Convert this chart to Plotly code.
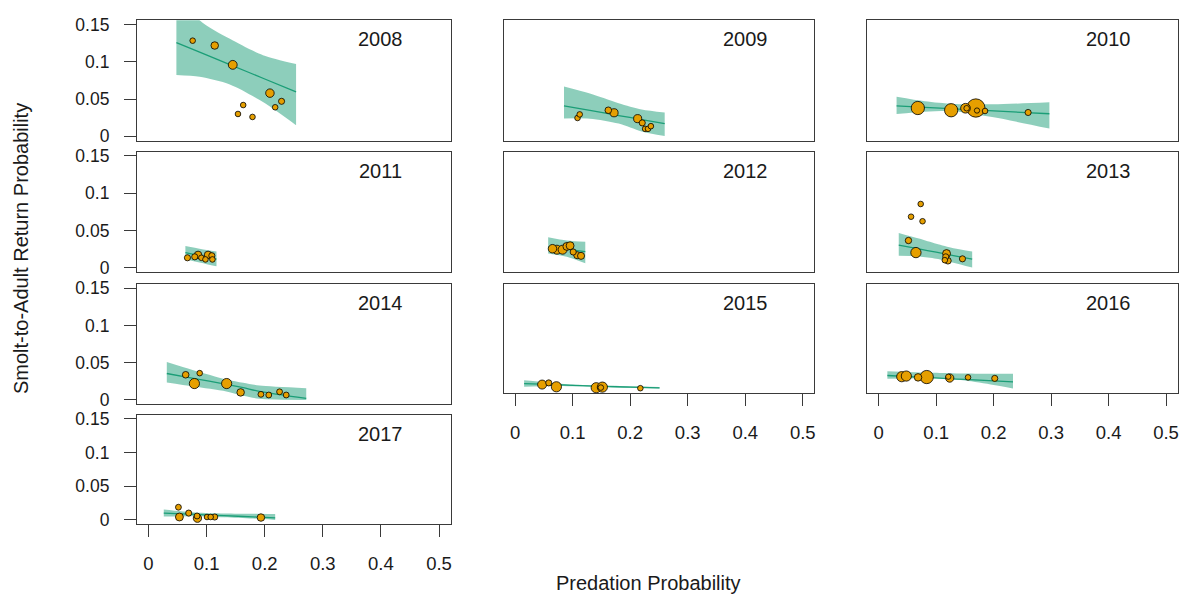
import plotly.graph_objects as go

# ---------------- data ----------------
years = [2008, 2009, 2010, 2011, 2012, 2013, 2014, 2015, 2016, 2017]

# observed points: predation probability, SAR, relative weight (bubble size)
pred_2008 = [0.076, 0.114, 0.145, 0.209, 0.229, 0.218, 0.163, 0.154, 0.179]
sar_2008 = [0.1285, 0.122, 0.096, 0.058, 0.047, 0.039, 0.042, 0.030, 0.026]
wt_2008 = [1.0, 1.8, 2.5, 2.3, 1.2, 1.0, 1.0, 1.0, 1.0]

pred_2009 = [0.1085, 0.1123, 0.162, 0.172, 0.213, 0.221, 0.226, 0.231, 0.236]
sar_2009 = [0.0246, 0.0294, 0.035, 0.0316, 0.0237, 0.018, 0.010, 0.010, 0.0136]
wt_2009 = [1.0, 1.0, 1.4, 2.1, 2.1, 1.2, 1.0, 1.0, 1.0]

pred_2010 = [0.068, 0.126, 0.151, 0.153, 0.169, 0.171, 0.185, 0.260]
sar_2010 = [0.038, 0.035, 0.0377, 0.0377, 0.038, 0.0346, 0.034, 0.032]
wt_2010 = [5.6, 5.6, 3.0, 1.0, 10.7, 0.9, 1.0, 1.2]

pred_2011 = [0.067, 0.0796, 0.0853, 0.091, 0.098, 0.1025, 0.109, 0.110]
sar_2011 = [0.0132, 0.0145, 0.0171, 0.0132, 0.011, 0.0171, 0.016, 0.011]
wt_2011 = [1.2, 1.2, 1.8, 1.0, 1.0, 1.8, 1.2, 1.0]

pred_2012 = [0.065, 0.0727, 0.0826, 0.090, 0.0956, 0.101, 0.108, 0.1146]
sar_2012 = [0.0254, 0.0241, 0.0241, 0.0285, 0.0294, 0.021, 0.0167, 0.0158]
wt_2012 = [2.3, 2.6, 2.6, 2.0, 2.0, 1.2, 1.6, 1.6]

pred_2013 = [0.073, 0.0562, 0.0762, 0.0517, 0.0647, 0.118, 0.1166, 0.1204, 0.115, 0.1457]
sar_2013 = [0.0855, 0.0684, 0.0623, 0.0364, 0.0202, 0.0189, 0.0145, 0.0092, 0.010, 0.0118]
wt_2013 = [1.0, 1.0, 1.0, 1.3, 3.4, 2.0, 1.2, 1.4, 1.0, 1.2]

pred_2014 = [0.064, 0.0881, 0.079, 0.1345, 0.1586, 0.1935, 0.207, 0.2256, 0.237]
sar_2014 = [0.0338, 0.036, 0.022, 0.022, 0.0101, 0.0075, 0.0066, 0.0109, 0.0066]
wt_2014 = [1.4, 1.0, 3.3, 3.3, 1.8, 1.1, 1.1, 1.1, 1.1]

pred_2015 = [0.047, 0.0585, 0.0718, 0.141, 0.1517, 0.149, 0.2177]
sar_2015 = [0.006, 0.0085, 0.0027, 0.0013, 0.0022, 0.0015, 0.0006]
wt_2015 = [2.6, 1.2, 3.3, 3.3, 3.3, 1.0, 1.0]

pred_2016 = [0.040, 0.048, 0.0684, 0.0835, 0.1235, 0.121, 0.1554, 0.2019]
sar_2016 = [0.0177, 0.0187, 0.0167, 0.0172, 0.0157, 0.0177, 0.0167, 0.0152]
wt_2016 = [3.3, 3.3, 1.8, 5.6, 2.2, 0.9, 1.0, 1.2]

pred_2017 = [0.0515, 0.0532, 0.0692, 0.0836, 0.0842, 0.1007, 0.107, 0.114, 0.1935]
sar_2017 = [0.0188, 0.0043, 0.0101, 0.0058, 0.0025, 0.0043, 0.0043, 0.0043, 0.0035]
wt_2017 = [1.1, 2.0, 1.2, 1.1, 2.2, 1.0, 1.0, 1.2, 1.8]

# fitted curve with confidence band: x, fit, lower, upper
fx_2008 = [0.048, 0.088, 0.14, 0.197, 0.254]
fit_2008 = [0.126, 0.113, 0.0964, 0.078, 0.0596]
lwr_2008 = [0.0825, 0.080, 0.0697, 0.046, 0.0149]
upr_2008 = [0.200, 0.156, 0.131, 0.109, 0.097]

fx_2009 = [0.085, 0.13, 0.18, 0.22, 0.26]
fit_2009 = [0.0408, 0.0347, 0.0279, 0.0225, 0.0171]
lwr_2009 = [0.024, 0.0237, 0.0171, 0.0065, 0.0004]
upr_2009 = [0.067, 0.0575, 0.0445, 0.036, 0.032]

fx_2010 = [0.031, 0.08, 0.13, 0.2, 0.297]
fit_2010 = [0.0408, 0.0389, 0.0369, 0.0341, 0.0303]
lwr_2010 = [0.030, 0.033, 0.0338, 0.0255, 0.0105]
upr_2010 = [0.053, 0.047, 0.0435, 0.0430, 0.0457]

fx_2011 = [0.0635, 0.09, 0.117]
fit_2011 = [0.020, 0.0158, 0.0115]
lwr_2011 = [0.0114, 0.0066, 0.0017]
upr_2011 = [0.029, 0.025, 0.0215]

fx_2012 = [0.0575, 0.09, 0.122]
fit_2012 = [0.0276, 0.0245, 0.0215]
lwr_2012 = [0.0189, 0.0145, 0.0057]
upr_2012 = [0.0408, 0.0364, 0.0346]

fx_2013 = [0.0348, 0.07, 0.10, 0.13, 0.1626]
fit_2013 = [0.0303, 0.0251, 0.0207, 0.0162, 0.0114]
lwr_2013 = [0.0158, 0.0150, 0.0120, 0.0065, 0.0]
upr_2013 = [0.0465, 0.039, 0.032, 0.026, 0.0215]

fx_2014 = [0.0315, 0.077, 0.134, 0.163, 0.191, 0.2715]
fit_2014 = [0.0355, 0.029, 0.021, 0.0165, 0.0115, 0.002]
lwr_2014 = [0.0233, 0.018, 0.0114, 0.0055, 0.0015, 0.0]
upr_2014 = [0.051, 0.040, 0.0276, 0.023, 0.0193, 0.0158]

fx_2015 = [0.0157, 0.06, 0.1, 0.15, 0.2, 0.251]
fit_2015 = [0.0075, 0.0062, 0.0048, 0.0034, 0.0022, 0.0012]
lwr_2015 = [0.0027, 0.0038, 0.0035, 0.0025, 0.0012, 0.0002]
upr_2015 = [0.0123, 0.0088, 0.0060, 0.0045, 0.0035, 0.0025]

fx_2016 = [0.015, 0.08, 0.12, 0.15, 0.2, 0.2337]
fit_2016 = [0.0195, 0.0167, 0.0149, 0.0136, 0.0115, 0.010]
lwr_2016 = [0.0148, 0.0155, 0.0145, 0.012, 0.0055, 0.0003]
upr_2016 = [0.026, 0.024, 0.023, 0.0225, 0.022, 0.022]

fx_2017 = [0.0263, 0.08, 0.13, 0.18, 0.218]
fit_2017 = [0.0101, 0.0081, 0.0063, 0.0044, 0.003]
lwr_2017 = [0.0049, 0.0055, 0.004, 0.002, 0.0]
upr_2017 = [0.0155, 0.011, 0.0095, 0.009, 0.0087]

x_ticks = [0, 0.1, 0.2, 0.3, 0.4, 0.5]
x_tick_text = ["0", "0.1", "0.2", "0.3", "0.4", "0.5"]
y_ticks = [0, 0.05, 0.1, 0.15]
y_tick_text = ["0", "0.05", "0.1", "0.15"]

x_title = "Predation Probability"
y_title = "Smolt-to-Adult Return Probability"

# ---------------- layout / styling ----------------
W, H = 1185, 601
FONT = "Liberation Sans, Arial, Helvetica, sans-serif"
TXT = "#1a1a1a"
BOX = "#3a3a3a"
BAND = "rgba(27,158,119,0.5)"
LINE = "#1b9e77"
PT = "#E69F00"

col_px = {1: (137, 451), 2: (504, 815), 3: (868, 1178.5)}
row_px = {
    "r1": (14.5, 137.5),
    "r2": (148.5, 271.5),
    "r3": (283.5, 406.5),
    "r3s": (283.5, 394.5),
    "r4": (417, 528.5),
}
# panel placement: (column, row key, show x axis, show y axis)
place = {
    2008: (1, "r1", False, True),
    2009: (2, "r1", False, False),
    2010: (3, "r1", False, False),
    2011: (1, "r2", False, True),
    2012: (2, "r2", False, False),
    2013: (3, "r2", False, False),
    2014: (1, "r3", False, True),
    2015: (2, "r3s", True, False),
    2016: (3, "r3s", True, False),
    2017: (1, "r4", True, True),
}

g = globals()
fig = go.Figure()
layout = dict(
    width=W, height=H, margin=dict(l=0, r=0, t=0, b=0),
    paper_bgcolor="white", plot_bgcolor="white", showlegend=False,
    font=dict(family=FONT, size=20, color=TXT),
)
annotations = []

for i, yr in enumerate(years, start=1):
    col, rk, showx, showy = place[yr]
    xs = "" if i == 1 else str(i)
    xa, ya = "x" + xs, "y" + xs
    x0, x1 = col_px[col]
    t, b = row_px[rk]
    xd = [x0 / W, x1 / W]
    yd = [1 - b / H, 1 - t / H]

    fx, fit, lwr, upr = g[f"fx_{yr}"], g[f"fit_{yr}"], g[f"lwr_{yr}"], g[f"upr_{yr}"]
    fig.add_trace(go.Scatter(x=fx, y=lwr, mode="lines", line=dict(width=0, shape="spline", smoothing=0.8),
                             xaxis=xa, yaxis=ya, hoverinfo="skip"))
    fig.add_trace(go.Scatter(x=fx, y=upr, mode="lines", line=dict(width=0, shape="spline", smoothing=0.8),
                             fill="tonexty", fillcolor=BAND, xaxis=xa, yaxis=ya, hoverinfo="skip"))
    fig.add_trace(go.Scatter(x=fx, y=fit, mode="lines", line=dict(color=LINE, width=1.3, shape="spline", smoothing=0.8),
                             xaxis=xa, yaxis=ya, hoverinfo="skip"))

    px, sar, wt = g[f"pred_{yr}"], g[f"sar_{yr}"], g[f"wt_{yr}"]
    order = sorted(range(len(px)), key=lambda k: -wt[k])
    fig.add_trace(go.Scatter(
        x=[px[k] for k in order], y=[sar[k] for k in order], mode="markers",
        marker=dict(color=PT, opacity=1, size=[5.6 * (wt[k] ** 0.5) for k in order],
                    line=dict(color="black", width=0.8)),
        xaxis=xa, yaxis=ya, cliponaxis=False))

    layout["xaxis" + xs] = dict(
        domain=xd, range=[-0.02, 0.52], anchor=ya, showgrid=False, zeroline=False,
        showline=True, mirror=True, linecolor=BOX, linewidth=1,
        tickmode="array", tickvals=x_ticks, ticktext=x_tick_text,
        ticks="outside" if showx else "", ticklen=12, tickcolor=BOX, tickwidth=1,
        showticklabels=showx, tickfont=dict(family=FONT, size=18.5, color=TXT),
        ticklabelstandoff=11,
    )
    layout["yaxis" + xs] = dict(
        domain=yd, range=[-0.006, 0.156], anchor=xa, showgrid=False, zeroline=False,
        showline=True, mirror=True, linecolor=BOX, linewidth=1,
        tickmode="array", tickvals=y_ticks, ticktext=y_tick_text,
        ticks="outside" if showy else "", ticklen=12, tickcolor=BOX, tickwidth=1,
        showticklabels=showy, tickfont=dict(family=FONT, size=17.5, color=TXT),
        ticklabelstandoff=11,
    )
    annotations.append(dict(
        text=str(yr), xref=f"{xa} domain", yref=f"{ya} domain", x=0.778, y=1,
        xanchor="center", yanchor="middle", yshift=-19, showarrow=False,
        font=dict(family=FONT, size=20, color=TXT)))

annotations.append(dict(text=x_title, xref="paper", yref="paper", x=649 / W, y=1 - 589 / H,
                        xanchor="center", yanchor="middle", showarrow=False,
                        font=dict(family=FONT, size=20, color=TXT)))
annotations.append(dict(text=y_title, xref="paper", yref="paper", x=21 / W, y=1 - 247 / H,
                        xanchor="center", yanchor="middle", textangle=-90, showarrow=False,
                        font=dict(family=FONT, size=20, color=TXT)))
layout["annotations"] = annotations
fig.update_layout(**layout)
fig.write_html("out.html")
